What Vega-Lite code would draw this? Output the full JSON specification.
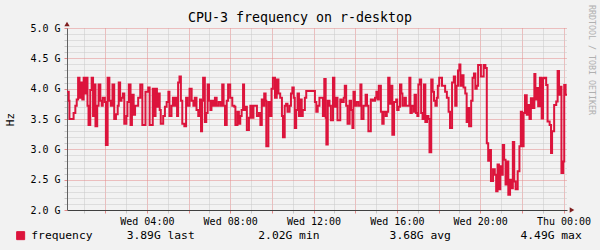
{
  "$schema": "https://vega.github.io/schema/vega-lite/v6.json",
  "width": 500,
  "height": 182,
  "autosize": {"type": "none"},
  "padding": {"left": 67, "top": 28, "right": 33, "bottom": 40},
  "background": "#f2f2f2",
  "config": {"view": {"fill": "#ffffff", "stroke": null}, "font": "DejaVu Sans Mono"},
  "title": {"text": "CPU-3 frequency on r-desktop", "font": "DejaVu Sans Mono", "fontSize": 13.3, "fontWeight": "normal", "color": "#000000", "anchor": "middle", "frame": "group", "dx": -17, "dy": 30, "offset": 0, "baseline": "alphabetic"},
  "layer": [
    {
      "data": {"values": [
        {"t":"2024-01-03T00:10","v":3.95},{"t":"2024-01-03T00:15","v":3.80},{"t":"2024-01-03T00:17","v":3.50},{"t":"2024-01-03T00:29","v":3.60},{"t":"2024-01-03T00:34","v":3.72},{"t":"2024-01-03T00:38","v":3.82},{"t":"2024-01-03T00:42","v":4.18},{"t":"2024-01-03T00:46","v":3.85},{"t":"2024-01-03T00:50","v":4.10},{"t":"2024-01-03T00:54","v":3.82},{"t":"2024-01-03T00:58","v":4.18},{"t":"2024-01-03T01:02","v":3.92},{"t":"2024-01-03T01:05","v":4.18},{"t":"2024-01-03T01:09","v":3.72},{"t":"2024-01-03T01:12","v":3.40},{"t":"2024-01-03T01:17","v":3.98},{"t":"2024-01-03T01:21","v":4.18},{"t":"2024-01-03T01:25","v":3.55},{"t":"2024-01-03T01:28","v":4.07},{"t":"2024-01-03T01:32","v":3.38},{"t":"2024-01-03T01:37","v":3.72},{"t":"2024-01-03T01:41","v":4.07},{"t":"2024-01-03T01:46","v":3.80},{"t":"2024-01-03T01:50","v":3.72},{"t":"2024-01-03T01:53","v":3.85},{"t":"2024-01-03T01:59","v":3.78},{"t":"2024-01-03T02:02","v":3.07},{"t":"2024-01-03T02:07","v":4.18},{"t":"2024-01-03T02:12","v":3.80},{"t":"2024-01-03T02:16","v":3.72},{"t":"2024-01-03T02:21","v":4.07},{"t":"2024-01-03T02:26","v":3.50},{"t":"2024-01-03T02:31","v":3.58},{"t":"2024-01-03T02:36","v":3.72},{"t":"2024-01-03T02:39","v":4.10},{"t":"2024-01-03T02:43","v":3.80},{"t":"2024-01-03T02:47","v":3.85},{"t":"2024-01-03T02:51","v":3.92},{"t":"2024-01-03T02:55","v":3.42},{"t":"2024-01-03T03:01","v":3.55},{"t":"2024-01-03T03:04","v":3.78},{"t":"2024-01-03T03:08","v":4.07},{"t":"2024-01-03T03:13","v":3.40},{"t":"2024-01-03T03:17","v":3.90},{"t":"2024-01-03T03:22","v":3.57},{"t":"2024-01-03T03:26","v":3.72},{"t":"2024-01-03T03:35","v":3.85},{"t":"2024-01-03T03:41","v":4.07},{"t":"2024-01-03T03:47","v":3.40},{"t":"2024-01-03T03:56","v":3.95},
        {"t":"2024-01-03T04:04","v":4.02},{"t":"2024-01-03T04:08","v":3.40},{"t":"2024-01-03T04:17","v":4.00},{"t":"2024-01-03T04:21","v":3.55},{"t":"2024-01-03T04:25","v":4.00},{"t":"2024-01-03T04:29","v":3.70},{"t":"2024-01-03T04:33","v":3.92},{"t":"2024-01-03T04:37","v":3.65},{"t":"2024-01-03T04:40","v":3.42},{"t":"2024-01-03T04:47","v":3.55},{"t":"2024-01-03T04:52","v":3.70},{"t":"2024-01-03T04:57","v":3.78},{"t":"2024-01-03T05:02","v":3.95},{"t":"2024-01-03T05:05","v":3.55},{"t":"2024-01-03T05:11","v":3.72},{"t":"2024-01-03T05:15","v":3.85},{"t":"2024-01-03T05:19","v":3.72},{"t":"2024-01-03T05:23","v":3.85},{"t":"2024-01-03T05:27","v":3.55},{"t":"2024-01-03T05:30","v":4.10},{"t":"2024-01-03T05:34","v":4.20},{"t":"2024-01-03T05:38","v":3.80},{"t":"2024-01-03T05:42","v":3.42},{"t":"2024-01-03T05:48","v":3.38},{"t":"2024-01-03T05:53","v":3.85},{"t":"2024-01-03T05:57","v":3.72},{"t":"2024-01-03T06:03","v":4.00},{"t":"2024-01-03T06:09","v":3.80},{"t":"2024-01-03T06:14","v":3.72},{"t":"2024-01-03T06:18","v":3.85},{"t":"2024-01-03T06:23","v":3.65},{"t":"2024-01-03T06:28","v":3.55},{"t":"2024-01-03T06:33","v":3.82},{"t":"2024-01-03T06:36","v":3.30},{"t":"2024-01-03T06:39","v":3.80},{"t":"2024-01-03T06:42","v":4.18},{"t":"2024-01-03T06:47","v":3.45},{"t":"2024-01-03T06:51","v":3.60},{"t":"2024-01-03T06:55","v":4.07},{"t":"2024-01-03T06:59","v":3.80},{"t":"2024-01-03T07:03","v":3.65},{"t":"2024-01-03T07:06","v":3.80},{"t":"2024-01-03T07:11","v":3.72},{"t":"2024-01-03T07:16","v":3.85},{"t":"2024-01-03T07:21","v":3.72},{"t":"2024-01-03T07:27","v":3.78},{"t":"2024-01-03T07:33","v":3.72},{"t":"2024-01-03T07:37","v":4.07},{"t":"2024-01-03T07:41","v":3.72},{"t":"2024-01-03T07:45","v":3.40},{"t":"2024-01-03T07:50","v":3.80},{"t":"2024-01-03T07:54","v":4.07},
        {"t":"2024-01-03T08:00","v":3.85},{"t":"2024-01-03T08:06","v":3.72},{"t":"2024-01-03T08:12","v":3.70},{"t":"2024-01-03T08:15","v":3.40},{"t":"2024-01-03T08:21","v":3.62},{"t":"2024-01-03T08:25","v":3.42},{"t":"2024-01-03T08:29","v":3.55},{"t":"2024-01-03T08:33","v":3.65},{"t":"2024-01-03T08:37","v":4.07},{"t":"2024-01-03T08:40","v":3.65},{"t":"2024-01-03T08:44","v":3.70},{"t":"2024-01-03T08:48","v":3.32},{"t":"2024-01-03T08:54","v":3.52},{"t":"2024-01-03T08:58","v":3.72},{"t":"2024-01-03T09:03","v":3.52},{"t":"2024-01-03T09:07","v":3.72},{"t":"2024-01-03T09:17","v":3.55},{"t":"2024-01-03T09:23","v":3.60},{"t":"2024-01-03T09:27","v":3.40},{"t":"2024-01-03T09:31","v":3.82},{"t":"2024-01-03T09:34","v":3.72},{"t":"2024-01-03T09:38","v":3.92},{"t":"2024-01-03T09:42","v":3.80},{"t":"2024-01-03T09:44","v":3.05},{"t":"2024-01-03T09:50","v":3.78},{"t":"2024-01-03T09:55","v":3.55},{"t":"2024-01-03T09:59","v":4.00},{"t":"2024-01-03T10:03","v":4.18},{"t":"2024-01-03T10:09","v":3.85},{"t":"2024-01-03T10:14","v":4.15},{"t":"2024-01-03T10:19","v":3.92},{"t":"2024-01-03T10:24","v":3.85},{"t":"2024-01-03T10:29","v":3.55},{"t":"2024-01-03T10:32","v":3.20},{"t":"2024-01-03T10:37","v":3.72},{"t":"2024-01-03T10:41","v":3.75},{"t":"2024-01-03T10:45","v":3.62},{"t":"2024-01-03T10:51","v":3.72},{"t":"2024-01-03T10:55","v":3.92},{"t":"2024-01-03T10:59","v":4.02},{"t":"2024-01-03T11:03","v":3.85},{"t":"2024-01-03T11:06","v":3.35},{"t":"2024-01-03T11:10","v":3.65},{"t":"2024-01-03T11:14","v":3.92},{"t":"2024-01-03T11:18","v":3.55},{"t":"2024-01-03T11:22","v":3.82},{"t":"2024-01-03T11:26","v":3.55},{"t":"2024-01-03T11:29","v":3.65},{"t":"2024-01-03T11:35","v":3.85},{"t":"2024-01-03T11:39","v":3.96},
        {"t":"2024-01-03T12:04","v":3.78},{"t":"2024-01-03T12:08","v":3.62},{"t":"2024-01-03T12:12","v":3.72},{"t":"2024-01-03T12:17","v":3.85},{"t":"2024-01-03T12:27","v":3.55},{"t":"2024-01-03T12:31","v":4.16},{"t":"2024-01-03T12:35","v":3.52},{"t":"2024-01-03T12:37","v":3.08},{"t":"2024-01-03T12:41","v":3.80},{"t":"2024-01-03T12:46","v":3.72},{"t":"2024-01-03T12:50","v":3.48},{"t":"2024-01-03T12:56","v":4.18},{"t":"2024-01-03T13:00","v":3.70},{"t":"2024-01-03T13:04","v":3.85},{"t":"2024-01-03T13:09","v":3.48},{"t":"2024-01-03T13:17","v":3.82},{"t":"2024-01-03T13:21","v":3.78},{"t":"2024-01-03T13:27","v":3.85},{"t":"2024-01-03T13:30","v":4.05},{"t":"2024-01-03T13:34","v":3.72},{"t":"2024-01-03T13:38","v":3.42},{"t":"2024-01-03T13:44","v":3.80},{"t":"2024-01-03T13:48","v":3.65},{"t":"2024-01-03T13:52","v":3.35},{"t":"2024-01-03T13:55","v":3.95},{"t":"2024-01-03T13:59","v":3.72},{"t":"2024-01-03T14:03","v":3.78},{"t":"2024-01-03T14:09","v":3.72},{"t":"2024-01-03T14:15","v":4.07},{"t":"2024-01-03T14:18","v":3.50},{"t":"2024-01-03T14:24","v":3.72},{"t":"2024-01-03T14:30","v":3.90},{"t":"2024-01-03T14:34","v":3.72},{"t":"2024-01-03T14:38","v":3.30},{"t":"2024-01-03T14:45","v":3.82},{"t":"2024-01-03T14:51","v":3.80},{"t":"2024-01-03T14:57","v":3.85},{"t":"2024-01-03T15:01","v":3.95},{"t":"2024-01-03T15:04","v":3.82},{"t":"2024-01-03T15:08","v":4.05},{"t":"2024-01-03T15:14","v":3.62},{"t":"2024-01-03T15:18","v":3.42},{"t":"2024-01-03T15:22","v":3.62},{"t":"2024-01-03T15:28","v":3.55},{"t":"2024-01-03T15:31","v":3.62},{"t":"2024-01-03T15:35","v":4.18},{"t":"2024-01-03T15:39","v":3.75},{"t":"2024-01-03T15:43","v":4.05},{"t":"2024-01-03T15:47","v":3.24},{"t":"2024-01-03T15:52","v":3.78},
        {"t":"2024-01-03T15:58","v":3.82},{"t":"2024-01-03T16:01","v":3.65},{"t":"2024-01-03T16:05","v":3.70},{"t":"2024-01-03T16:09","v":4.07},{"t":"2024-01-03T16:13","v":3.92},{"t":"2024-01-03T16:16","v":3.72},{"t":"2024-01-03T16:22","v":3.85},{"t":"2024-01-03T16:26","v":3.72},{"t":"2024-01-03T16:36","v":4.18},{"t":"2024-01-03T16:39","v":3.60},{"t":"2024-01-03T16:43","v":3.72},{"t":"2024-01-03T16:49","v":3.62},{"t":"2024-01-03T16:51","v":3.90},{"t":"2024-01-03T16:55","v":3.60},{"t":"2024-01-03T16:59","v":3.55},{"t":"2024-01-03T17:02","v":4.07},{"t":"2024-01-03T17:06","v":4.15},{"t":"2024-01-03T17:10","v":3.60},{"t":"2024-01-03T17:14","v":3.50},{"t":"2024-01-03T17:18","v":4.07},{"t":"2024-01-03T17:22","v":3.45},{"t":"2024-01-03T17:27","v":3.55},{"t":"2024-01-03T17:31","v":3.50},{"t":"2024-01-03T17:34","v":2.95},{"t":"2024-01-03T17:39","v":4.15},{"t":"2024-01-03T17:43","v":3.95},{"t":"2024-01-03T17:47","v":3.80},{"t":"2024-01-03T17:51","v":3.72},{"t":"2024-01-03T17:55","v":3.85},{"t":"2024-01-03T17:58","v":4.05},{"t":"2024-01-03T18:02","v":4.18},{"t":"2024-01-03T18:10","v":4.05},{"t":"2024-01-03T18:19","v":3.95},{"t":"2024-01-03T18:24","v":3.85},{"t":"2024-01-03T18:29","v":3.62},{"t":"2024-01-03T18:33","v":3.35},{"t":"2024-01-03T18:39","v":4.10},{"t":"2024-01-03T18:44","v":4.20},{"t":"2024-01-03T18:48","v":3.72},{"t":"2024-01-03T18:52","v":4.05},{"t":"2024-01-03T18:56","v":4.30},{"t":"2024-01-03T19:00","v":4.40},{"t":"2024-01-03T19:03","v":4.05},{"t":"2024-01-03T19:07","v":4.22},{"t":"2024-01-03T19:12","v":4.02},{"t":"2024-01-03T19:17","v":3.92},{"t":"2024-01-03T19:21","v":3.45},{"t":"2024-01-03T19:25","v":3.68},{"t":"2024-01-03T19:28","v":3.38},{"t":"2024-01-03T19:34","v":3.80},{"t":"2024-01-03T19:38","v":4.18},{"t":"2024-01-03T19:42","v":4.25},{"t":"2024-01-03T19:46","v":4.00},{"t":"2024-01-03T19:50","v":4.05},
        {"t":"2024-01-03T19:54","v":4.39},{"t":"2024-01-03T20:02","v":4.20},{"t":"2024-01-03T20:10","v":4.39},{"t":"2024-01-03T20:15","v":4.34},{"t":"2024-01-03T20:19","v":3.10},{"t":"2024-01-03T20:23","v":2.81},{"t":"2024-01-03T20:27","v":2.99},{"t":"2024-01-03T20:31","v":2.48},{"t":"2024-01-03T20:37","v":2.67},{"t":"2024-01-03T20:42","v":2.58},{"t":"2024-01-03T20:46","v":2.31},{"t":"2024-01-03T20:50","v":2.75},{"t":"2024-01-03T20:54","v":2.34},{"t":"2024-01-03T20:58","v":2.72},{"t":"2024-01-03T21:02","v":2.58},{"t":"2024-01-03T21:05","v":3.07},{"t":"2024-01-03T21:09","v":2.83},{"t":"2024-01-03T21:13","v":2.42},{"t":"2024-01-03T21:17","v":2.80},{"t":"2024-01-03T21:21","v":2.25},{"t":"2024-01-03T21:26","v":2.50},{"t":"2024-01-03T21:30","v":2.36},{"t":"2024-01-03T21:34","v":3.12},{"t":"2024-01-03T21:38","v":2.47},{"t":"2024-01-03T21:42","v":2.34},{"t":"2024-01-03T21:48","v":2.64},{"t":"2024-01-03T21:53","v":3.05},{"t":"2024-01-03T21:57","v":3.62},{"t":"2024-01-03T22:01","v":3.05},{"t":"2024-01-03T22:05","v":3.60},{"t":"2024-01-03T22:09","v":3.89},{"t":"2024-01-03T22:14","v":3.57},{"t":"2024-01-03T22:18","v":3.73},{"t":"2024-01-03T22:22","v":3.50},{"t":"2024-01-03T22:26","v":3.84},{"t":"2024-01-03T22:31","v":3.68},{"t":"2024-01-03T22:36","v":4.24},{"t":"2024-01-03T22:39","v":3.82},{"t":"2024-01-03T22:43","v":4.01},{"t":"2024-01-03T22:47","v":3.71},{"t":"2024-01-03T22:52","v":4.18},{"t":"2024-01-03T22:57","v":3.51},{"t":"2024-01-03T23:01","v":4.17},{"t":"2024-01-03T23:04","v":4.18},{"t":"2024-01-03T23:10","v":4.06},{"t":"2024-01-03T23:14","v":3.46},{"t":"2024-01-03T23:20","v":3.40},{"t":"2024-01-03T23:24","v":2.94},{"t":"2024-01-03T23:27","v":3.30},{"t":"2024-01-03T23:33","v":3.73},{"t":"2024-01-03T23:39","v":3.79},{"t":"2024-01-03T23:43","v":4.29},{"t":"2024-01-03T23:47","v":3.90},{"t":"2024-01-03T23:50","v":4.03},{"t":"2024-01-03T23:54","v":2.61},{"t":"2024-01-03T23:59","v":2.80},{"t":"2024-01-04T00:02","v":4.06},{"t":"2024-01-04T00:06","v":3.90},{"t":"2024-01-04T00:10","v":3.89}
      ]},
      "mark": {"type": "line", "interpolate": "step-after", "strokeWidth": 2, "clip": true},
      "encoding": {
        "x": {
          "field": "t", "type": "temporal",
          "scale": {"domain": [{"year": 2024, "month": 1, "date": 3, "hours": 0, "minutes": 10}, {"year": 2024, "month": 1, "date": 4, "hours": 0, "minutes": 10}]},
          "axis": {
            "title": null,
            "tickCount": 100,
            "values": [
              {"year": 2024, "month": 1, "date": 3, "hours": 1}, {"year": 2024, "month": 1, "date": 3, "hours": 2}, {"year": 2024, "month": 1, "date": 3, "hours": 3}, {"year": 2024, "month": 1, "date": 3, "hours": 4},
              {"year": 2024, "month": 1, "date": 3, "hours": 5}, {"year": 2024, "month": 1, "date": 3, "hours": 6}, {"year": 2024, "month": 1, "date": 3, "hours": 7}, {"year": 2024, "month": 1, "date": 3, "hours": 8},
              {"year": 2024, "month": 1, "date": 3, "hours": 9}, {"year": 2024, "month": 1, "date": 3, "hours": 10}, {"year": 2024, "month": 1, "date": 3, "hours": 11}, {"year": 2024, "month": 1, "date": 3, "hours": 12},
              {"year": 2024, "month": 1, "date": 3, "hours": 13}, {"year": 2024, "month": 1, "date": 3, "hours": 14}, {"year": 2024, "month": 1, "date": 3, "hours": 15}, {"year": 2024, "month": 1, "date": 3, "hours": 16},
              {"year": 2024, "month": 1, "date": 3, "hours": 17}, {"year": 2024, "month": 1, "date": 3, "hours": 18}, {"year": 2024, "month": 1, "date": 3, "hours": 19}, {"year": 2024, "month": 1, "date": 3, "hours": 20},
              {"year": 2024, "month": 1, "date": 3, "hours": 21}, {"year": 2024, "month": 1, "date": 3, "hours": 22}, {"year": 2024, "month": 1, "date": 3, "hours": 23}, {"year": 2024, "month": 1, "date": 4, "hours": 0}
            ],
            "grid": true,
            "gridColor": {"condition": {"test": "hours(datum.value) % 2 == 0", "value": "#e58a8a"}, "value": "#c8c8c8"},
            "gridDash": [1, 1],
            "ticks": true,
            "tickSize": 3,
            "tickColor": {"condition": {"test": "hours(datum.value) % 2 == 0", "value": "#e58a8a"}, "value": "#c8c8c8"},
            "labelExpr": "hours(datum.value) % 4 == 0 ? timeFormat(datum.value, '%a %H:%M') : ''",
            "labelFont": "DejaVu Sans Mono",
            "labelFontSize": 10,
            "labelColor": "#000000",
            "labelPadding": 3,
            "labelFlush": false,
            "labelOverlap": false,
            "domainColor": "#404040"
          }
        },
        "y": {
          "field": "v", "type": "quantitative",
          "scale": {"domain": [2, 5], "nice": false, "zero": false},
          "axis": {
            "title": "Hz",
            "titleFont": "DejaVu Sans Mono",
            "titleFontSize": 11,
            "titleFontWeight": "normal",
            "titleColor": "#000000",
            "titlePadding": 14,
            "tickCount": 100,
            "values": [2, 2.1, 2.2, 2.3, 2.4, 2.5, 2.6, 2.7, 2.8, 2.9, 3, 3.1, 3.2, 3.3, 3.4, 3.5, 3.6, 3.7, 3.8, 3.9, 4, 4.1, 4.2, 4.3, 4.4, 4.5, 4.6, 4.7, 4.8, 4.9, 5],
            "grid": true,
            "gridColor": {"condition": {"test": "abs(datum.value * 2 - round(datum.value * 2)) < 0.01", "value": "#e58a8a"}, "value": "#c8c8c8"},
            "gridDash": [1, 1],
            "ticks": true,
            "tickSize": 3,
            "tickColor": {"condition": {"test": "abs(datum.value * 2 - round(datum.value * 2)) < 0.01", "value": "#e58a8a"}, "value": "#c8c8c8"},
            "labelExpr": "abs(datum.value * 2 - round(datum.value * 2)) < 0.01 ? format(datum.value, '.1f') + ' G' : ''",
            "labelFont": "DejaVu Sans Mono",
            "labelFontSize": 10,
            "labelColor": "#000000",
            "labelPadding": 4,
            "labelFlush": false,
            "labelOverlap": false,
            "domainColor": "#606060"
          }
        },
        "color": {
          "datum": "frequency",
          "scale": {"range": ["#dc143c"]},
          "legend": {
            "title": null,
            "orient": "none",
            "legendX": -52,
            "legendY": 202,
            "padding": 0,
            "symbolType": "square",
            "symbolSize": 64,
            "symbolFillColor": "#dc143c",
            "symbolStrokeColor": "#000000",
            "symbolStrokeWidth": 1,
            "labelFont": "DejaVu Sans Mono",
            "labelFontSize": 11.3,
            "labelColor": "#000000",
            "labelOffset": 5
          }
        }
      }
    },
    {
      "data": {"values": [{"t": "2024-01-03T00:10", "v": 5}]},
      "mark": {"type": "point", "shape": "triangle-up", "filled": true, "color": "#7f1f1f", "size": 28, "opacity": 1, "yOffset": -4},
      "encoding": {
        "x": {"field": "t", "type": "temporal"},
        "y": {"field": "v", "type": "quantitative"}
      }
    },
    {
      "data": {"values": [{"t": "2024-01-04T00:10", "v": 2}]},
      "mark": {"type": "point", "shape": "triangle-right", "filled": true, "color": "#7f1f1f", "size": 28, "opacity": 1, "xOffset": 5},
      "encoding": {
        "x": {"field": "t", "type": "temporal"},
        "y": {"field": "v", "type": "quantitative"}
      }
    },
    {
      "data": {"values": [{}]},
      "mark": {"type": "text", "text": "3.89G last", "x": 59.7, "y": 208, "align": "left", "baseline": "middle", "font": "DejaVu Sans Mono", "fontSize": 11.3, "color": "#000000"}
    },
    {
      "data": {"values": [{}]},
      "mark": {"type": "text", "text": "2.02G min", "x": 191.3, "y": 208, "align": "left", "baseline": "middle", "font": "DejaVu Sans Mono", "fontSize": 11.3, "color": "#000000"}
    },
    {
      "data": {"values": [{}]},
      "mark": {"type": "text", "text": "3.68G avg", "x": 322.6, "y": 208, "align": "left", "baseline": "middle", "font": "DejaVu Sans Mono", "fontSize": 11.3, "color": "#000000"}
    },
    {
      "data": {"values": [{}]},
      "mark": {"type": "text", "text": "4.49G max", "x": 453.5, "y": 208, "align": "left", "baseline": "middle", "font": "DejaVu Sans Mono", "fontSize": 11.3, "color": "#000000"}
    },
    {
      "data": {"values": [{}]},
      "mark": {"type": "text", "text": "RRDTOOL / TOBI OETIKER", "x": 524, "y": -23, "angle": 90, "align": "left", "baseline": "middle", "font": "DejaVu Sans Mono", "fontSize": 8.3, "color": "#b0b0b0"}
    }
  ]
}
